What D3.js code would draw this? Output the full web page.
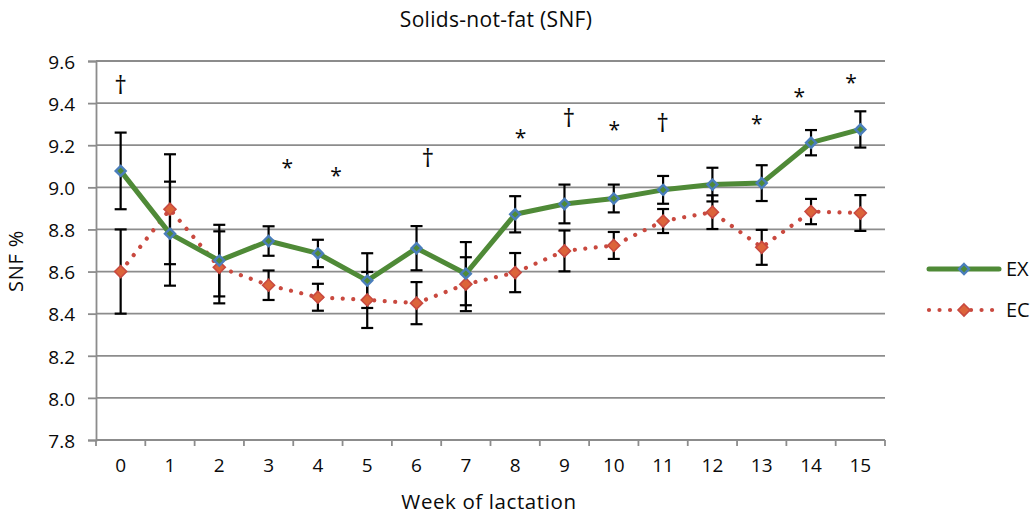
<!DOCTYPE html>
<html>
<head>
<meta charset="utf-8">
<script src="https://cdn.jsdelivr.net/npm/d3@7"></script>
<style>
  html, body { margin: 0; padding: 0; background: #fff; }
  svg { display: block; font-family: "Open Sans", sans-serif; }
</style>
</head>
<body>
<svg id="chart" width="1034" height="516"></svg>
<script>
// Week of lactation
const weeks = [0, 1, 2, 3, 4, 5, 6, 7, 8, 9, 10, 11, 12, 13, 14, 15];

// EX group: mean SNF % and error-bar half-width
const exMean = [9.078, 8.78, 8.652, 8.745, 8.686, 8.557, 8.711, 8.59, 8.872, 8.921, 8.947, 8.988, 9.013, 9.02, 9.212, 9.275];
const exErr  = [0.182, 0.247, 0.17, 0.07, 0.065, 0.13, 0.105, 0.15, 0.086, 0.092, 0.066, 0.066, 0.08, 0.085, 0.06, 0.086];

// EC group: mean SNF % and error-bar half-width
const ecMean = [8.6, 8.896, 8.62, 8.535, 8.478, 8.465, 8.45, 8.54, 8.595, 8.698, 8.724, 8.84, 8.882, 8.715, 8.885, 8.878];
const ecErr  = [0.2, 0.261, 0.171, 0.07, 0.064, 0.133, 0.1, 0.128, 0.093, 0.097, 0.064, 0.057, 0.08, 0.083, 0.06, 0.085];

// Significance marks (symbol, week position, SNF level)
const markSymbol = ["†", "*", "*", "†", "*", "†", "*", "†", "*", "*", "*"];
const markWeek   = [0, 3.38, 4.37, 6.23, 8.11, 9.09, 10.01, 10.99, 12.9, 13.76, 14.81];
const markLevel  = [9.478, 9.114, 9.078, 9.13, 9.257, 9.32, 9.296, 9.296, 9.325, 9.454, 9.518];

const yTicks = [7.8, 8.0, 8.2, 8.4, 8.6, 8.8, 9.0, 9.2, 9.4, 9.6];
const seriesNames = ["EX", "EC"];

const svg = d3.select("#chart");
const plot = { left: 96, right: 885, top: 61, bottom: 440 };

const x = d3.scaleBand().domain(weeks).range([plot.left, plot.right]).padding(0);
const xc = w => x(0) + x.bandwidth() / 2 + w * x.step();
const y = d3.scaleLinear().domain([7.8, 9.6]).range([plot.bottom, plot.top]);

const gridColor = "#8c8c8c";
const green = "#4f8a37";
const blue = "#4a7ebb";
const red = "#c9493f";
const redFill = "#dc643a";
const ink = "#0a0a0a";

// Horizontal gridlines
svg.append("g")
  .selectAll("line")
  .data(yTicks.filter(t => t > 7.8))
  .join("line")
  .attr("x1", plot.left).attr("x2", plot.right)
  .attr("y1", d => y(d)).attr("y2", d => y(d))
  .attr("stroke", gridColor).attr("stroke-width", 1.8);

// Y axis
const yAxis = svg.append("g")
  .attr("transform", `translate(${plot.left},0)`)
  .call(d3.axisLeft(y).tickValues(yTicks).tickFormat(d3.format(".1f")).tickSize(8).tickPadding(13));
yAxis.select(".domain").attr("stroke", gridColor).attr("stroke-width", 1.8);
yAxis.selectAll(".tick line").attr("stroke", gridColor).attr("stroke-width", 1.8);
yAxis.selectAll(".tick text")
  .attr("font-family", "Open Sans, sans-serif")
  .attr("font-size", 19).attr("fill", ink).attr("dy", "0.38em");

// X axis with ticks on category boundaries
const xAxisG = svg.append("g").attr("transform", `translate(0,${plot.bottom})`);
xAxisG.append("line")
  .attr("x1", plot.left).attr("x2", plot.right)
  .attr("stroke", gridColor).attr("stroke-width", 1.8);
xAxisG.selectAll("line.tk")
  .data(weeks.concat([weeks.length]))
  .join("line").attr("class", "tk")
  .attr("x1", (d, i) => plot.left + i * x.step())
  .attr("x2", (d, i) => plot.left + i * x.step())
  .attr("y1", 0).attr("y2", 6)
  .attr("stroke", gridColor).attr("stroke-width", 1.8);
xAxisG.selectAll("text")
  .data(weeks)
  .join("text")
  .attr("x", d => x(d) + x.bandwidth() / 2)
  .attr("y", 32)
  .attr("text-anchor", "middle")
  .attr("font-size", 19).attr("fill", ink)
  .text(d => d);

// Error bars
function errorBars(mean, err) {
  const g = svg.append("g").attr("stroke", "#000").attr("stroke-width", 2.2);
  weeks.forEach((w, i) => {
    const cx = xc(w), top = y(mean[i] + err[i]), bot = y(mean[i] - err[i]);
    g.append("line").attr("x1", cx).attr("x2", cx).attr("y1", top).attr("y2", bot);
    g.append("line").attr("x1", cx - 6).attr("x2", cx + 6).attr("y1", top).attr("y2", top);
    g.append("line").attr("x1", cx - 6).attr("x2", cx + 6).attr("y1", bot).attr("y2", bot);
  });
}
errorBars(exMean, exErr);
errorBars(ecMean, ecErr);

// Series lines
const line = d3.line().x((d, i) => xc(weeks[i])).y(d => y(d));
svg.append("path").datum(ecMean)
  .attr("d", line).attr("fill", "none")
  .attr("stroke", red).attr("stroke-width", 4.2)
  .attr("stroke-linecap", "round").attr("stroke-dasharray", "0.01 10.5");
svg.append("path").datum(exMean)
  .attr("d", line).attr("fill", "none")
  .attr("stroke", green).attr("stroke-width", 5)
  .attr("stroke-linejoin", "round");

// Diamond markers
const diamond = r => `M0,${-r}L${r},0L0,${r}L${-r},0Z`;
function markers(mean, fill, stroke, r, sw) {
  svg.append("g").selectAll("path")
    .data(mean)
    .join("path")
    .attr("transform", (d, i) => `translate(${xc(weeks[i])},${y(d)})`)
    .attr("d", diamond(r))
    .attr("fill", fill).attr("stroke", stroke).attr("stroke-width", sw);
}
markers(ecMean, redFill, red, 6, 1.6);
markers(exMean, green, blue, 5, 2.4);

// Significance symbols
svg.append("g").selectAll("text")
  .data(markSymbol)
  .join("text")
  .attr("x", (d, i) => xc(markWeek[i]))
  .attr("y", (d, i) => y(markLevel[i]) + (d === "*" ? 12 : 7))
  .attr("text-anchor", "middle")
  .attr("font-size", d => d === "*" ? 21 : 25).attr("fill", ink)
  .text(d => d);

// Titles
svg.append("text")
  .attr("x", 496).attr("y", 27)
  .attr("text-anchor", "middle")
  .attr("font-size", 21).attr("letter-spacing", 0.3).attr("fill", ink)
  .text("Solids-not-fat (SNF)");
svg.append("text")
  .attr("x", 489).attr("y", 509)
  .attr("text-anchor", "middle")
  .attr("font-size", 20.5).attr("letter-spacing", 0.6).attr("fill", ink)
  .text("Week of lactation");
svg.append("text")
  .attr("transform", "translate(23,261) rotate(-90)")
  .attr("text-anchor", "middle")
  .attr("font-size", 20).attr("letter-spacing", 0.8).attr("fill", ink)
  .text("SNF %");

// Legend
const legend = svg.append("g");
const legendY = [269, 310];
legend.append("line")
  .attr("x1", 929).attr("x2", 999).attr("y1", legendY[0]).attr("y2", legendY[0])
  .attr("stroke", green).attr("stroke-width", 5).attr("stroke-linecap", "round");
legend.append("path")
  .attr("transform", `translate(964,${legendY[0]})`).attr("d", diamond(5))
  .attr("fill", green).attr("stroke", blue).attr("stroke-width", 2.4);
legend.append("line")
  .attr("x1", 929).attr("x2", 999).attr("y1", legendY[1]).attr("y2", legendY[1])
  .attr("stroke", red).attr("stroke-width", 4.2)
  .attr("stroke-linecap", "round").attr("stroke-dasharray", "0.01 10.5");
legend.append("path")
  .attr("transform", `translate(964,${legendY[1]})`).attr("d", diamond(6))
  .attr("fill", redFill).attr("stroke", red).attr("stroke-width", 1.6);
legend.selectAll("text.lg")
  .data(seriesNames)
  .join("text").attr("class", "lg")
  .attr("x", 1006).attr("y", (d, i) => legendY[i])
  .attr("dy", "0.36em")
  .attr("font-size", 20).attr("fill", ink)
  .text(d => d);
</script>
</body>
</html>
